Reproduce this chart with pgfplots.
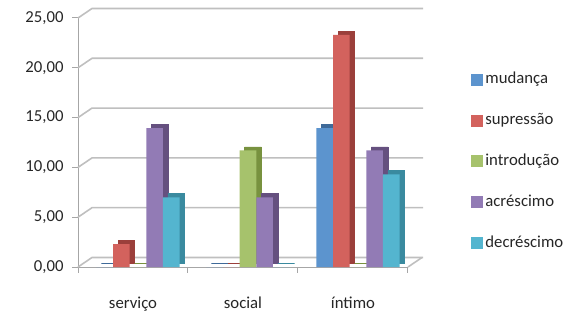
\documentclass[border=0pt]{standalone}
\usepackage{pgfplots}
\pgfplotsset{compat=1.18}
\usepackage{fontspec}
\setmainfont{Carlito}
\definecolor{bF}{HTML}{5C94CE}
\definecolor{bS}{HTML}{3F6A99}
\definecolor{rF}{HTML}{D3625D}
\definecolor{rS}{HTML}{9B3F3B}
\definecolor{gF}{HTML}{A6C26C}
\definecolor{gS}{HTML}{78923F}
\definecolor{pF}{HTML}{927BB5}
\definecolor{pS}{HTML}{65507F}
\definecolor{cF}{HTML}{54B5CF}
\definecolor{cS}{HTML}{3A8A9F}
\definecolor{gridc}{HTML}{BFBFBF}
\definecolor{axc}{HTML}{A6A6A6}
\begin{document}
\begin{tikzpicture}
\useasboundingbox (0,0) rectangle (582bp,320bp);
\begin{axis}[
  at={(78bp,53bp)}, anchor=south west,
  scale only axis, width=330bp, height=249bp,
  xmin=-0.5, xmax=2.5, ymin=0, ymax=25,
  clip=false,
  axis x line*=bottom, axis y line*=left,
  axis line style={draw=axc, line width=1bp},
  xtick={-0.5,0.5,1.5,2.5}, xticklabels={},
  extra x ticks={0,1,2}, extra x tick labels={serviço,social,íntimo},
  extra x tick style={major tick length=0pt, xticklabel style={anchor=base, yshift=-41bp}},
  ytick={0,5,...,25},
  tick align=outside, major tick length=6bp,
  tick style={draw=axc, line width=1bp},
  ticklabel style={font=\fontsize{16.8}{20}\selectfont, text=black!85},
  yticklabel style={/pgf/number format/fixed, /pgf/number format/fixed zerofill,
    /pgf/number format/precision=2, /pgf/number format/use comma,
    /pgf/number format/assume math mode=true, anchor=east, xshift=-5bp},
  legend style={at={(1.19,0.424)}, anchor=west, draw=none, fill=none, inner sep=0pt,
    row sep=19.8bp, font=\fontsize{16.8}{20}\selectfont, text=black!85,
    nodes={inner sep=2.5bp, text height=12bp, text depth=4bp}},
  legend cell align=left,
  legend image code/.code={\fill[#1] (0bp,-6bp) rectangle (12bp,6bp);},
]
\pgfplotsinvokeforeach{0,5,10,15,20,25}{
  \draw[gridc, line width=1.6bp] (axis cs:-0.5,#1) -- ++(14bp,9.5bp) -- ++(331bp,0pt);
}
\draw[gridc, line width=1.6bp] (axis cs:2.5,0) -- ++(14bp,9.5bp);
% side faces
\addplot[ybar, bar width=16.6bp, bar shift=-28.2bp, fill=bS, draw=bS, line width=0.8bp, xshift=5bp, yshift=3.5bp, forget plot] coordinates {(0,0) (1,0) (2,13.95)};
\addplot[ybar, bar width=16.6bp, bar shift=-11.6bp, fill=rS, draw=rS, line width=0.8bp, xshift=5bp, yshift=3.5bp, forget plot] coordinates {(0,2.3) (1,0) (2,23.3)};
\addplot[ybar, bar width=16.6bp, bar shift=5bp, fill=gS, draw=gS, line width=0.8bp, xshift=5bp, yshift=3.5bp, forget plot] coordinates {(0,0) (1,11.7) (2,0)};
\addplot[ybar, bar width=16.6bp, bar shift=21.6bp, fill=pS, draw=pS, line width=0.8bp, xshift=5bp, yshift=3.5bp, forget plot] coordinates {(0,13.95) (1,7.0) (2,11.7)};
\addplot[ybar, bar width=16.6bp, bar shift=38.2bp, fill=cS, draw=cS, line width=0.8bp, xshift=5bp, yshift=3.5bp, forget plot] coordinates {(0,7.0) (1,0) (2,9.3)};
% front faces
\addplot[ybar, bar width=16.6bp, bar shift=-28.2bp, fill=bF, draw=none] coordinates {(0,0) (1,0) (2,13.95)};
\addplot[ybar, bar width=16.6bp, bar shift=-11.6bp, fill=rF, draw=none] coordinates {(0,2.3) (1,0) (2,23.3)};
\addplot[ybar, bar width=16.6bp, bar shift=5bp, fill=gF, draw=none] coordinates {(0,0) (1,11.7) (2,0)};
\addplot[ybar, bar width=16.6bp, bar shift=21.6bp, fill=pF, draw=none] coordinates {(0,13.95) (1,7.0) (2,11.7)};
\addplot[ybar, bar width=16.6bp, bar shift=38.2bp, fill=cF, draw=none] coordinates {(0,7.0) (1,0) (2,9.3)};
\legend{mudança,supressão,introdução,acréscimo,decréscimo}
\end{axis}
\end{tikzpicture}
\end{document}
